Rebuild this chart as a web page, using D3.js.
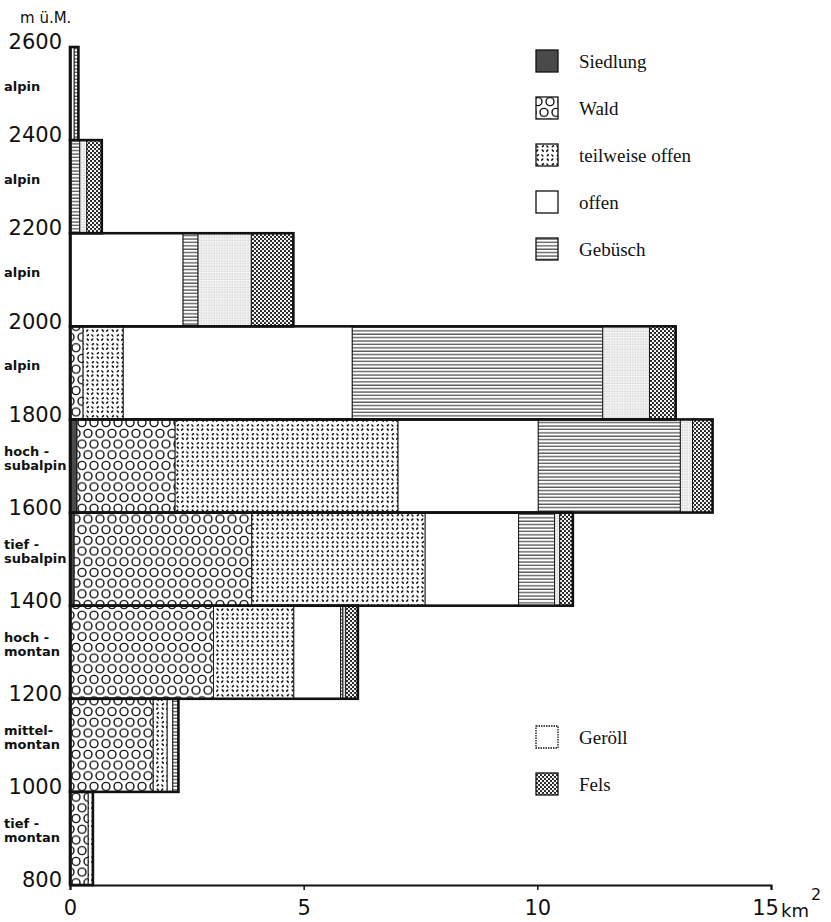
<!DOCTYPE html>
<html>
<head>
<meta charset="utf-8">
<script src="https://cdn.jsdelivr.net/npm/d3@7"></script>
<style>
  body { margin: 0; background: #fff; }
  svg text { fill: #111; }
</style>
</head>
<body>
<div id="chart"></div>
<script>
// Hoehenstufen (untere Grenze in m ü.M.) und Flaechen in km2 je Kategorie
var bandLow = [800, 1000, 1200, 1400, 1600, 1800, 2000, 2200, 2400];
var zoneLabels = [["tief -", "montan"], ["mittel-", "montan"], ["hoch -", "montan"],
                  ["tief -", "subalpin"], ["hoch -", "subalpin"],
                  ["alpin"], ["alpin"], ["alpin"], ["alpin"]];
var elevTicks = [800, 1000, 1200, 1400, 1600, 1800, 2000, 2200, 2400, 2600];
var areaTicks = [0, 5, 10, 15];

var siedlung = [0, 0, 0, 0.09, 0.15, 0, 0, 0, 0];
var wald     = [0.39, 1.78, 3.07, 3.8, 2.1, 0.28, 0, 0, 0];
var teilOffen = [0.1, 0.3, 1.72, 3.71, 4.77, 0.86, 0, 0, 0];
var offen    = [0, 0.12, 1.0, 2.0, 3.0, 4.9, 2.42, 0, 0.09];
var gebusch  = [0, 0.12, 0.05, 0.77, 3.04, 5.36, 0.32, 0.21, 0.09];
var geroll   = [0, 0, 0.06, 0.11, 0.26, 1.0, 1.14, 0.15, 0];
var fels     = [0, 0, 0.26, 0.28, 0.43, 0.56, 0.9, 0.32, 0];

var keys = ["siedlung", "wald", "teilOffen", "offen", "gebusch", "geroll", "fels"];
var legendTop = [["siedlung", "Siedlung"], ["wald", "Wald"], ["teilOffen", "teilweise offen"],
                 ["offen", "offen"], ["gebusch", "Gebüsch"]];
var legendBottom = [["geroll", "Geröll"], ["fels", "Fels"]];

var table = bandLow.map(function (b, i) {
  return {low: b, siedlung: siedlung[i], wald: wald[i], teilOffen: teilOffen[i],
          offen: offen[i], gebusch: gebusch[i], geroll: geroll[i], fels: fels[i]};
});

var w = 831, h = 922;
var svg = d3.select("#chart").append("svg")
    .attr("width", w)
    .attr("height", h);

var x = d3.scaleLinear().domain([0, 15]).range([70, 771]);
var y = d3.scaleLinear().domain([800, 2600]).range([885, 47]);

// patterns
var defs = svg.append("defs");

var p = defs.append("pattern").attr("id", "p-wald").attr("patternUnits", "userSpaceOnUse")
    .attr("x", 70).attr("width", 12).attr("height", 21.4);
p.append("rect").attr("width", 12).attr("height", 21.4).attr("fill", "#fff");
[[6, 5.35], [0, 16.05], [12, 16.05]].forEach(function (c) {
  p.append("circle").attr("cx", c[0]).attr("cy", c[1]).attr("r", 4)
    .attr("fill", "none").attr("stroke", "#111").attr("stroke-width", 1.4);
});

p = defs.append("pattern").attr("id", "p-teilOffen").attr("patternUnits", "userSpaceOnUse")
    .attr("width", 10).attr("height", 18);
p.append("rect").attr("width", 10).attr("height", 18).attr("fill", "#fff");
[[5, 4.5], [0, 13.5], [10, 13.5]].forEach(function (c) {
  p.append("circle").attr("cx", c[0]).attr("cy", c[1]).attr("r", 3.2)
    .attr("fill", "none").attr("stroke", "#111").attr("stroke-width", 1.5)
    .attr("stroke-dasharray", "2.6,2.4").attr("transform", "rotate(20," + c[0] + "," + c[1] + ")");
});

p = defs.append("pattern").attr("id", "p-gebusch").attr("patternUnits", "userSpaceOnUse")
    .attr("width", 8).attr("height", 3.4);
p.append("rect").attr("width", 8).attr("height", 3.4).attr("fill", "#fff");
p.append("line").attr("x1", 0).attr("x2", 8).attr("y1", 1).attr("y2", 1)
  .attr("stroke", "#333").attr("stroke-width", 1.1);

p = defs.append("pattern").attr("id", "p-geroll").attr("patternUnits", "userSpaceOnUse")
    .attr("width", 2.6).attr("height", 2.6);
p.append("rect").attr("width", 2.6).attr("height", 2.6).attr("fill", "#f4f4f4");
p.append("circle").attr("cx", 1).attr("cy", 1).attr("r", 0.5).attr("fill", "#aaa");

p = defs.append("pattern").attr("id", "p-fels").attr("patternUnits", "userSpaceOnUse")
    .attr("width", 4).attr("height", 4);
p.append("rect").attr("width", 4).attr("height", 4).attr("fill", "#222");
[[1, 1], [3, 3]].forEach(function (c) {
  p.append("circle").attr("cx", c[0]).attr("cy", c[1]).attr("r", 1.15).attr("fill", "#fff");
});

var fills = {siedlung: "#4a4a4a", wald: "url(#p-wald)", teilOffen: "url(#p-teilOffen)",
             offen: "#fff", gebusch: "url(#p-gebusch)", geroll: "url(#p-geroll)", fels: "url(#p-fels)"};

// stacked bars
var series = d3.stack().keys(keys)(table);

svg.append("g").selectAll("g")
  .data(series)
  .join("g")
    .attr("fill", function (d) { return fills[d.key]; })
  .selectAll("rect")
  .data(function (d) { return d.filter(function (s) { return s[1] - s[0] > 0; }); })
  .join("rect")
    .attr("x", function (d) { return x(d[0]); })
    .attr("width", function (d) { return x(d[1]) - x(d[0]); })
    .attr("y", function (d) { return y(d.data.low + 200); })
    .attr("height", function (d) { return y(d.data.low) - y(d.data.low + 200); })
    .attr("stroke", "#111")
    .attr("stroke-width", 0.9);

// outline of every band
var totals = table.map(function (d) {
  return d3.sum(keys, function (k) { return d[k]; });
});
svg.append("g").selectAll("rect")
  .data(table)
  .join("rect")
    .attr("x", x(0))
    .attr("width", function (d, i) { return x(totals[i]) - x(0); })
    .attr("y", function (d) { return y(d.low + 200); })
    .attr("height", function (d) { return y(d.low) - y(d.low + 200); })
    .attr("fill", "none")
    .attr("stroke", "#111")
    .attr("stroke-width", 2.6);

// axes
var xAxis = svg.append("g")
    .attr("transform", "translate(0," + y(800) + ")")
    .call(d3.axisBottom(x).tickValues(areaTicks).tickSize(5).tickPadding(10)
      .tickFormat(d3.format("d")));
xAxis.select(".domain").attr("stroke", "#111").attr("stroke-width", 2);
xAxis.selectAll(".tick line").attr("stroke", "#111").attr("stroke-width", 1.5);
xAxis.selectAll(".tick text")
    .style("font-family", "DejaVu Sans, sans-serif")
    .style("font-size", "21px")
    .attr("fill", "#111")
    .attr("dx", function (d) { return d == 15 ? -6 : 0; });

svg.append("text")
    .attr("x", 781).attr("y", 917)
    .style("font-family", "DejaVu Sans, sans-serif")
    .style("font-size", "18px")
    .text("km");
svg.append("text")
    .attr("x", 811).attr("y", 900)
    .style("font-family", "DejaVu Sans, sans-serif")
    .style("font-size", "16px")
    .text("2");

var yAxis = svg.append("g")
    .attr("transform", "translate(" + x(0) + ",0)")
    .call(d3.axisLeft(y).tickValues(elevTicks).tickSize(0).tickPadding(8)
      .tickFormat(d3.format("d")));
yAxis.select(".domain").attr("stroke", "#111").attr("stroke-width", 2.6);
yAxis.selectAll(".tick text")
    .style("font-family", "DejaVu Sans, sans-serif")
    .style("font-size", "21px")
    .attr("fill", "#111")
    .attr("dy", "0.08em");

svg.append("text")
    .attr("x", 20).attr("y", 23)
    .style("font-family", "DejaVu Sans, sans-serif")
    .style("font-size", "15px")
    .text("m ü.M.");

// zone names
var zones = svg.append("g").selectAll("text")
  .data(table)
  .join("text")
    .attr("x", 4)
    .attr("y", function (d, i) {
      var mid = (y(d.low) + y(d.low + 200)) / 2;
      return zoneLabels[i].length == 1 ? mid - 3 : mid - 10;
    })
    .style("font-family", "DejaVu Sans, sans-serif")
    .style("font-size", "13px")
    .style("font-weight", "bold");
zones.selectAll("tspan")
  .data(function (d, i) { return zoneLabels[i]; })
  .join("tspan")
    .attr("x", 4)
    .attr("dy", function (d, i) { return i == 0 ? 0 : 14; })
    .text(function (d) { return d; });

// legends
function drawLegend(items, top, step) {
  var g = svg.append("g");
  items.forEach(function (it, i) {
    var cy = top + i * step;
    g.append("rect")
      .attr("x", 536).attr("y", cy - 11)
      .attr("width", 22).attr("height", 22)
      .attr("fill", it[0] == "geroll" ? "#fff" : fills[it[0]])
      .attr("stroke", "#111")
      .attr("stroke-width", 1.3)
      .attr("stroke-dasharray", it[0] == "geroll" ? "1.5,1" : null);
    g.append("text")
      .attr("x", 579).attr("y", cy + 7)
      .style("font-family", "Liberation Serif, serif")
      .style("font-size", "19px")
      .text(it[1]);
  });
}
drawLegend(legendTop, 61, 47);
drawLegend(legendBottom, 737, 47);
</script>
</body>
</html>
